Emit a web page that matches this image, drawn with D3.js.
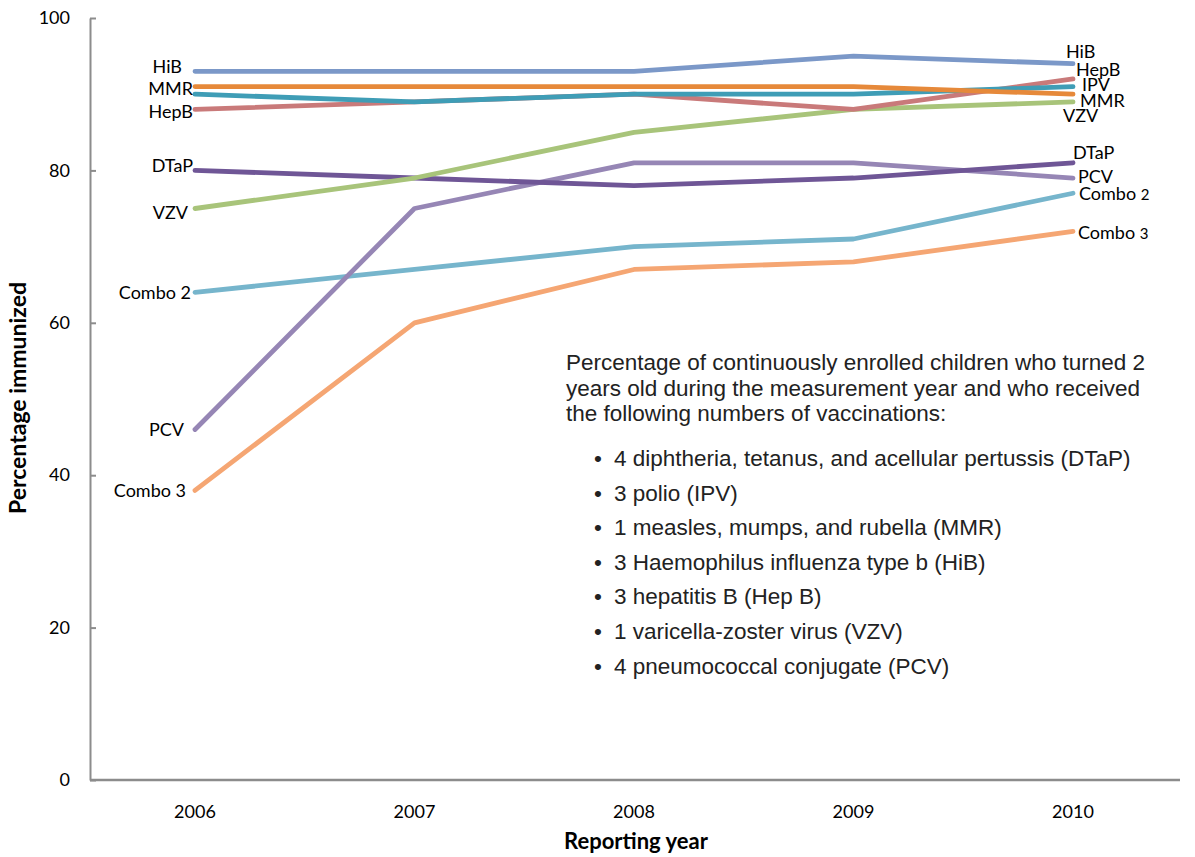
<!DOCTYPE html>
<html>
<head>
<meta charset="utf-8">
<script src="https://cdn.jsdelivr.net/npm/d3@7"></script>
<style>
  body { margin:0; background:#fff; }
  text { font-family: Lato, "Open Sans", sans-serif; }
</style>
</head>
<body>
<svg id="chart"></svg>
<script>
// data
var years = ["2006", "2007", "2008", "2009", "2010"];
var seriesNames = ["HiB", "MMR", "IPV", "HepB", "VZV", "DTaP", "PCV", "Combo 2", "Combo 3"];
var hib    = [93, 93, 93, 95, 94];
var mmr    = [91, 91, 91, 91, 90];
var ipv    = [90, 89, 90, 90, 91];
var hepb   = [88, 89, 90, 88, 92];
var vzv    = [75, 79, 85, 88, 89];
var dtap   = [80, 79, 78, 79, 81];
var pcv    = [46, 75, 81, 81, 79];
var combo2 = [64, 67, 70, 71, 77];
var combo3 = [38, 60, 67, 68, 72];
var yTicks = [0, 20, 40, 60, 80, 100];

var noteLines = [
  "Percentage of continuously enrolled children who turned 2",
  "years old during the measurement year and who received",
  "the following numbers of vaccinations:"
];
var noteBullets = [
  "4 diphtheria, tetanus, and acellular pertussis (DTaP)",
  "3 polio (IPV)",
  "1 measles, mumps, and rubella (MMR)",
  "3 Haemophilus influenza type b (HiB)",
  "3 hepatitis B (Hep B)",
  "1 varicella-zoster virus (VZV)",
  "4 pneumococcal conjugate (PCV)"
];

var allValues = [hib, mmr, ipv, hepb, vzv, dtap, pcv, combo2, combo3];
var colors = ["#7b98c8", "#e6893a", "#3f9db6", "#c97a7a", "#a8c47a", "#6f5696", "#9686b5", "#76b5cc", "#f5a673"];

// label nudges so the end labels don't collide (left / right ends)
var leftNudge  = { "HiB":[-8,-5], "MMR":[3,2], "HepB":[3,2], "IPV":null, "DTaP":[3,-5], "VZV":[-2,4],
                   "PCV":[-6,0], "Combo 2":[1,0], "Combo 3":[-4,0] };
var rightNudge = { "HiB":[-7,-12], "HepB":[3,-9], "IPV":[9,-2], "MMR":[7,6], "VZV":[-10,14],
                   "DTaP":[0,-10], "PCV":[5,-1], "Combo 2":[6,0], "Combo 3":[5,1] };

var screen = {width:1195, height:857};
var plot = {left:90, right:1180, top:18, bottom:780};
var labelSize = "18px";

var svg = d3.select("#chart")
    .attr("width", screen.width)
    .attr("height", screen.height);

var xScale = d3.scalePoint()
    .domain(years)
    .range([195, 1073]);

var yScale = d3.scaleLinear()
    .domain([0, 100])
    .range([plot.bottom, plot.top]);

// y axis
var yAxis = d3.axisLeft(yScale)
    .tickValues(yTicks)
    .tickSizeInner(-6)
    .tickSizeOuter(0)
    .tickPadding(20);

var yg = svg.append("g")
    .attr("transform", "translate(" + plot.left + ",0)")
    .call(yAxis);
yg.select(".domain").attr("stroke", "#8c8c8c").attr("stroke-width", 2);
yg.selectAll(".tick line").attr("stroke", "#8c8c8c").attr("stroke-width", 2);
yg.selectAll(".tick text").style("font-size", "18px").attr("fill", "#000")
    .style("font-family", "Lato, sans-serif");

// x axis line
svg.append("line")
    .attr("x1", plot.left).attr("x2", plot.right)
    .attr("y1", plot.bottom).attr("y2", plot.bottom)
    .attr("stroke", "#8c8c8c").attr("stroke-width", 2.5);

svg.selectAll(".xlab")
    .data(years)
    .enter()
    .append("text")
    .attr("class", "xlab")
    .attr("x", function(d){ return xScale(d); })
    .attr("y", 818)
    .attr("text-anchor", "middle")
    .style("font-size", "18px")
    .text(function(d){ return d; });

// titles
svg.append("text")
    .attr("x", 636).attr("y", 849)
    .attr("text-anchor", "middle")
    .style("font-size", "22px").style("font-weight", "bold")
    .text("Reporting year");

svg.append("text")
    .attr("transform", "translate(26,398) rotate(-90)")
    .attr("text-anchor", "middle")
    .style("font-size", "23px").style("font-weight", "bold")
    .text("Percentage immunized");

// lines
var line = d3.line()
    .x(function(d, i){ return xScale(years[i]); })
    .y(function(d){ return yScale(d); });

var drawOrder = [8, 7, 6, 5, 4, 3, 2, 1, 0];
drawOrder.forEach(function(k) {
    svg.append("path")
        .datum(allValues[k])
        .attr("d", line)
        .attr("fill", "none")
        .attr("stroke", colors[k])
        .attr("stroke-width", 4.8)
        .attr("stroke-linecap", "round")
        .attr("stroke-linejoin", "round");
});

var addLabel = function(name, x, y, anchor)
{
    var t = svg.append("text")
        .attr("x", x).attr("y", y)
        .attr("dy", "0.35em")
        .attr("text-anchor", anchor)
        .style("font-size", labelSize);
    var m = name.match(/^(Combo )(\d)$/);
    if (m && anchor == "start") {
        t.append("tspan").text(m[1]);
        t.append("tspan").style("font-size", "15px").text(m[2]);
    } else {
        t.text(name);
    }
};

seriesNames.forEach(function(name, k) {
    var vals = allValues[k];
    var ln = leftNudge[name];
    if (ln) addLabel(name, xScale(years[0]) - 5 + ln[0], yScale(vals[0]) + ln[1], "end");
    var rn = rightNudge[name];
    addLabel(name, xScale(years[4]) + rn[0], yScale(vals[4]) + rn[1], "start");
});

// note text block
var noteFont = "'Liberation Sans', Arial, sans-serif";
noteLines.forEach(function(s, i) {
    svg.append("text")
        .attr("x", 566).attr("y", 370 + i * 25.5)
        .style("font-family", noteFont)
        .style("font-size", "22.5px").attr("fill", "#222")
        .text(s);
});
noteBullets.forEach(function(s, i) {
    var y = 466 + i * 34.6;
    svg.append("text")
        .attr("x", 594).attr("y", y)
        .style("font-family", noteFont)
        .style("font-size", "22.5px").attr("fill", "#222")
        .text("\u2022");
    svg.append("text")
        .attr("x", 614).attr("y", y)
        .style("font-family", noteFont)
        .style("font-size", "22.5px").attr("fill", "#222")
        .text(s);
});
</script>
</body>
</html>
